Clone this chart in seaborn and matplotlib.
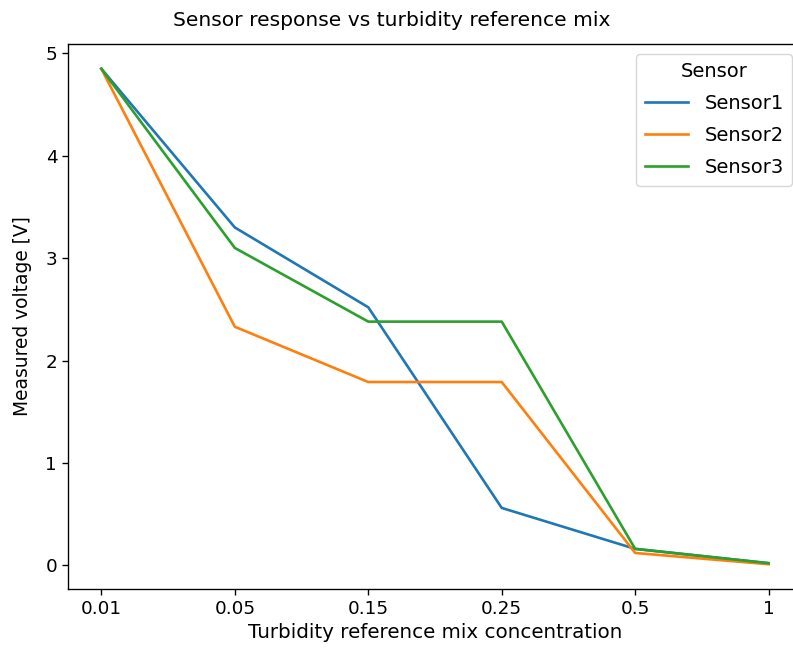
import matplotlib
matplotlib.use("Agg")
import matplotlib.pyplot as plt
import seaborn as sns
import pandas as pd

concentrations = ["0.01", "0.05", "0.15", "0.25", "0.5", "1"]
sensor1 = [4.85, 3.30, 2.52, 0.56, 0.16, 0.02]
sensor2 = [4.85, 2.33, 1.79, 1.79, 0.12, 0.01]
sensor3 = [4.85, 3.10, 2.38, 2.38, 0.16, 0.02]
sensor_names = ["Sensor1", "Sensor2", "Sensor3"]

rows = []
for name, vals in zip(sensor_names, [sensor1, sensor2, sensor3]):
    for c, v in zip(concentrations, vals):
        rows.append({"Concentration": c, "Voltage": v, "Sensor": name})
df = pd.DataFrame(rows)

s = 1.22
plt.rcParams.update({
    "xtick.major.size": 3.5 * s, "ytick.major.size": 3.5 * s,
    "xtick.major.width": 0.8 * s, "ytick.major.width": 0.8 * s,
    "axes.linewidth": 0.8 * s,
})

fig = plt.figure(figsize=(7.93, 6.51), dpi=100)
ax = fig.add_axes([68/793, 1 - 589/651, (802 - 68)/793, (589 - 44)/651])
sns.lineplot(data=df, x="Concentration", y="Voltage", hue="Sensor", ax=ax, linewidth=1.9)
ax.set_xlim(-0.25, 5.25)
fig.text(392/793, 1 - 21/651, "Sensor response vs turbidity reference mix",
         fontsize=14.6, ha="center", va="center")
ax.set_xlabel("Turbidity reference mix concentration", fontsize=14.3)
ax.set_ylabel("Measured voltage [V]", fontsize=13.4, labelpad=10)
ax.tick_params(labelsize=13.2)
ax.legend(title="Sensor", loc="upper right", fontsize=14, title_fontsize=14,
          handlelength=2.2, handletextpad=0.85, labelspacing=0.66, borderpad=0.45)
fig.savefig("out.png", dpi=100)
